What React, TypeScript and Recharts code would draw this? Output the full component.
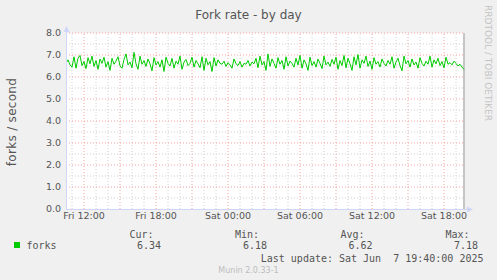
import React from 'react';
import { LineChart, Line, XAxis, YAxis, ReferenceLine, ReferenceArea } from 'recharts';

// fork rate samples (forks / second), 10-minute steps from Fri 10:30 to Sat 19:40
const forks = [
  6.62, 6.78, 6.55, 6.45, 6.92, 6.40, 6.85, 6.98, 6.52, 6.70,
  6.38, 6.88, 6.60, 6.95, 6.48, 6.75, 6.35, 6.82, 6.62, 6.90,
  6.45, 6.70, 6.30, 6.85, 6.58, 6.72, 6.92, 6.50, 6.40, 6.80,
  7.05, 6.55, 6.68, 6.42, 7.12, 6.60, 6.35, 6.95, 6.58, 6.75,
  6.48, 6.82, 6.60, 6.28, 6.88, 6.55, 6.70, 6.45, 6.78, 6.25,
  6.90, 6.62, 6.50, 6.85, 6.40, 6.72, 6.58, 6.95, 6.35, 6.68,
  6.80, 6.52, 6.62, 6.90, 6.45, 6.75, 6.60,
  6.42, 6.92, 6.30, 6.85, 6.55, 6.70, 6.25, 6.88, 6.50, 6.78,
  6.62, 6.58, 6.72, 6.48, 6.65, 6.55, 6.40, 6.82, 6.60, 6.52,
  6.70, 6.45, 6.62, 6.58, 6.75, 6.50, 6.68, 6.60, 6.85, 6.42,
  6.95, 6.55, 6.70, 6.30, 7.05, 6.48, 6.82, 6.62, 6.40, 6.88,
  6.58, 6.75, 6.35, 6.92, 6.50, 6.72, 6.62, 6.45, 6.85, 6.55,
  6.98, 6.40, 6.78, 6.60, 6.30, 6.90, 6.52, 6.70, 6.45, 6.82,
  6.62, 6.38, 6.95, 6.55, 6.68, 6.48, 6.80,
  6.58, 6.90, 6.35, 6.75, 6.52, 6.98, 6.42, 6.85, 6.60, 6.30,
  6.92, 6.55, 7.02, 6.40, 6.78, 6.62, 6.95, 6.48, 6.72, 6.35,
  6.88, 6.58, 6.70, 6.45, 6.82, 6.62, 6.50, 6.75, 6.58, 6.92,
  6.40, 6.68, 6.85, 6.52, 6.28, 6.95, 6.60, 6.75, 6.45, 6.82,
  6.55, 6.68, 6.40, 6.88, 6.62, 6.50, 6.72, 6.58, 6.95, 6.45,
  6.78, 6.60, 6.85, 6.52, 6.70, 6.42, 6.90, 6.58, 6.65, 6.55,
  6.72, 6.62, 6.50, 6.58, 6.45, 6.34,
];

// time axis in hours since Fri 00:00
const START_HOUR = 10.5;
const STEP_HOURS = 1 / 6;
const X_DOMAIN: [number, number] = [10.5, 43.75];
const NOW_HOUR = 43 + 40 / 60;

const xTickHours = [12, 18, 24, 30, 36, 42];
const xTickLabels = ['Fri 12:00', 'Fri 18:00', 'Sat 00:00', 'Sat 06:00', 'Sat 12:00', 'Sat 18:00'];
const yTicks = [0, 1, 2, 3, 4, 5, 6, 7, 8];

const majorXGrid = [12, 15, 18, 21, 24, 27, 30, 33, 36, 39, 42];
const minorXGrid = [11, 13, 14, 16, 17, 19, 20, 22, 23, 25, 26, 28, 29, 31, 32, 34, 35, 37, 38, 40, 41, 43];
const majorYGrid = [1, 2, 3, 4, 5, 6, 7, 8];
const minorYGrid = [0.5, 1.5, 2.5, 3.5, 4.5, 5.5, 6.5, 7.5];

const statLabels = ['Cur:', 'Min:', 'Avg:', 'Max:'];
const statValues = ['6.34', '6.18', '6.62', '7.18'];

const data = forks.map((v, i) => ({ t: START_HOUR + i * STEP_HOURS, v }));

const FONT = "'DejaVu Sans', Verdana, sans-serif";
const MONO = "'DejaVu Sans Mono', monospace";
const TXT = '#555555';
const AXIS = '#cfd6f8';
const MGRID = '#f4a3a3';
const GRID = '#cfcfcf';

const labelEnds = [153.5, 259, 364.5, 469.5];
const valueEnds = [161, 267, 372.5, 478];

export default function App() {
  return (
    <div style={{ position: 'absolute', left: 0, top: 0, width: 497, height: 280, background: '#f0f0f0' }}>
      <LineChart
        width={497}
        height={280}
        data={data}
        margin={{ top: 33, right: 32, bottom: 51, left: 16 }}
      >
        <XAxis
          type="number"
          dataKey="t"
          domain={X_DOMAIN}
          ticks={xTickHours}
          tickFormatter={(h: number) => xTickLabels[xTickHours.indexOf(h)] ?? ''}
          axisLine={false}
          tickLine={false}
          tickSize={0}
          tickMargin={3}
          height={20}
          allowDataOverflow
          tick={{ fontSize: 9.5, fill: TXT, fontFamily: FONT }}
          interval={0}
        />
        <YAxis
          type="number"
          domain={[0, 8]}
          ticks={yTicks}
          tickFormatter={(v: number) => v.toFixed(1)}
          axisLine={false}
          tickLine={false}
          tickSize={0}
          tickMargin={5}
          width={50}
          interval={0}
          tick={{ fontSize: 9.5, fill: TXT, fontFamily: FONT }}
        />
        <ReferenceArea x1={X_DOMAIN[0]} x2={X_DOMAIN[1]} y1={0} y2={8} fill="#ffffff" fillOpacity={1} stroke="none" />
        {minorYGrid.map((y) => (
          <ReferenceLine key={'my' + y} y={y} stroke={GRID} strokeDasharray="1 2" />
        ))}
        {minorXGrid.map((x) => (
          <ReferenceLine key={'mx' + x} x={x} stroke={GRID} strokeDasharray="1 2" />
        ))}
        {majorYGrid.map((y) => (
          <ReferenceLine key={'My' + y} y={y} stroke={MGRID} strokeDasharray="1 2" />
        ))}
        {majorXGrid.map((x) => (
          <ReferenceLine key={'Mx' + x} x={x} stroke={MGRID} strokeDasharray="1 2" />
        ))}
        <ReferenceLine x={NOW_HOUR} stroke="#8c8c8c" />
        <Line
          type="linear"
          dataKey="v"
          stroke="#00cc00"
          strokeWidth={1}
          dot={false}
          activeDot={false}
          isAnimationActive={false}
        />
      </LineChart>
      <svg
        width={497}
        height={280}
        style={{ position: 'absolute', left: 0, top: 0, pointerEvents: 'none' }}
      >
        {/* axes with arrows */}
        <line x1={66.5} y1={209} x2={66.5} y2={30} stroke={AXIS} />
        <polygon points="63.5,32 69.5,32 66.5,26" fill={AXIS} />
        <line x1={66} y1={209.5} x2={468} y2={209.5} stroke={AXIS} />
        <polygon points="467,206.5 467,212.5 473,209.5" fill={AXIS} />

        <text x={248.5} y={18.5} textAnchor="middle" fontFamily={FONT} fontSize={12} fill={TXT}>
          Fork rate - by day
        </text>
        <text
          x={15.5}
          y={122}
          textAnchor="middle"
          fontFamily={FONT}
          fontSize={12}
          letterSpacing={0.3}
          fill={TXT}
          transform="rotate(-90 15.5 122)"
        >
          forks / second
        </text>
        <text
          x={485}
          y={5}
          fontFamily={FONT}
          fontSize={9}
          fill="#c4c4c4"
          transform="rotate(90 485 5)"
        >
          RRDTOOL / TOBI OETIKER
        </text>

        {statLabels.map((s, i) => (
          <text key={s} x={labelEnds[i]} y={237.5} textAnchor="end" fontFamily={MONO} fontSize={10} fill={TXT}>
            {s}
          </text>
        ))}
        <rect x={14} y={242} width={6} height={6} fill="#00cc00" />
        <text x={26.5} y={249} fontFamily={MONO} fontSize={10} fill={TXT}>
          forks
        </text>
        {statValues.map((s, i) => (
          <text key={'v' + i} x={valueEnds[i]} y={249} textAnchor="end" fontFamily={MONO} fontSize={10} fill={TXT}>
            {s}
          </text>
        ))}
        <text x={483.5} y={261.5} textAnchor="end" fontFamily={MONO} fontSize={10} fill={TXT} style={{ whiteSpace: 'pre' }}>
          {'Last update: Sat Jun  7 19:40:00 2025'}
        </text>
        <text x={248.5} y={272.5} textAnchor="middle" fontFamily={FONT} fontSize={8} fill="#bdbdbd">
          Munin 2.0.33-1
        </text>
      </svg>
    </div>
  );
}
